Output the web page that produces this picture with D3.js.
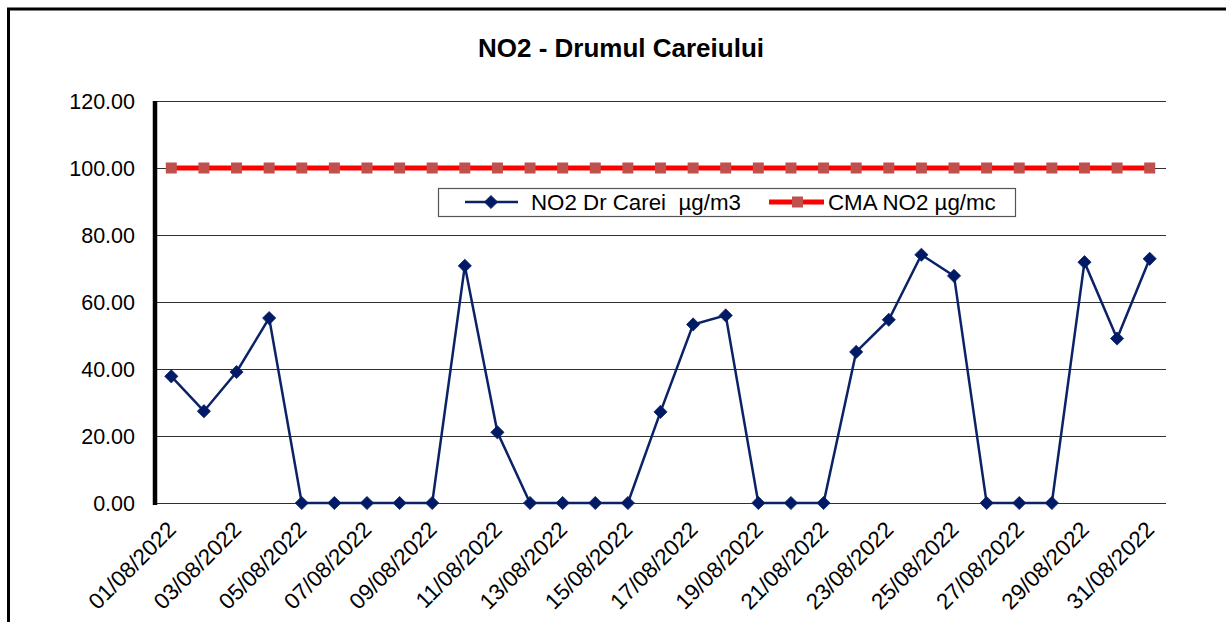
<!DOCTYPE html>
<html>
<head>
<meta charset="utf-8">
<script src="https://cdn.jsdelivr.net/npm/d3@7"></script>
<style>
  html, body { margin: 0; padding: 0; background: #fff; }
  svg { display: block; }
  text { font-family: "Liberation Sans", Arial, sans-serif; fill: #000; }
</style>
</head>
<body>
<svg id="chart" width="1226" height="622"></svg>
<script>
// ---- Data ----
const titleText = "NO2 - Drumul Careiului";
const dates = [
  "01/08/2022","02/08/2022","03/08/2022","04/08/2022","05/08/2022","06/08/2022",
  "07/08/2022","08/08/2022","09/08/2022","10/08/2022","11/08/2022","12/08/2022",
  "13/08/2022","14/08/2022","15/08/2022","16/08/2022","17/08/2022","18/08/2022",
  "19/08/2022","20/08/2022","21/08/2022","22/08/2022","23/08/2022","24/08/2022",
  "25/08/2022","26/08/2022","27/08/2022","28/08/2022","29/08/2022","30/08/2022",
  "31/08/2022"
];
const no2Values = [
  37.8, 27.4, 39.1, 55.2, 0, 0, 0, 0, 0, 70.8, 21.1, 0, 0, 0, 0,
  27.2, 53.3, 56.0, 0, 0, 0, 45.1, 54.7, 74.1, 67.8, 0, 0, 0, 71.9, 49.1, 72.9
];
const cmaValues = dates.map(() => 100);
const seriesNames = ["NO2 Dr Carei  \u00b5g/m3", "CMA NO2 \u00b5g/mc"];
const yTicks = [0, 20, 40, 60, 80, 100, 120];
const xTickLabels = dates.filter((d, i) => i % 2 === 0);

// ---- Layout ----
const svg = d3.select("#chart");
const plot = { left: 155, right: 1166, top: 101, bottom: 503 };
const navy = "#0c2266";
const navyFill = "#001a66";
const red = "#ff0000";
const squareFill = "#c0504d";

const x = d3.scaleBand().domain(dates).range([plot.left, plot.right]).padding(0);
const cx = d => x(d) + x.bandwidth() / 2;
const y = d3.scaleLinear().domain([0, 120]).range([plot.bottom, plot.top]);

// outer border (runs off right/bottom edges)
svg.append("rect")
  .attr("x", 8.5).attr("y", 9).attr("width", 1400).attr("height", 800)
  .attr("fill", "none").attr("stroke", "#000").attr("stroke-width", 3);

// title
svg.append("text")
  .attr("x", 621).attr("y", 57)
  .attr("text-anchor", "middle")
  .style("font-size", "26px").style("font-weight", "bold")
  .text(titleText);

// gridlines
svg.append("g").selectAll("line").data(yTicks.filter(t => t > 0)).join("line")
  .attr("x1", plot.left).attr("x2", plot.right)
  .attr("y1", d => Math.round(y(d)) + 0.5).attr("y2", d => Math.round(y(d)) + 0.5)
  .attr("stroke", "#303030").attr("stroke-width", 1);

// x axis line
svg.append("line")
  .attr("x1", plot.left).attr("x2", plot.right)
  .attr("y1", plot.bottom + 0.5).attr("y2", plot.bottom + 0.5)
  .attr("stroke", "#303030").attr("stroke-width", 1.2);

// y axis (thick)
svg.append("line")
  .attr("x1", plot.left).attr("x2", plot.left)
  .attr("y1", plot.top).attr("y2", plot.bottom + 2)
  .attr("stroke", "#000").attr("stroke-width", 4.5);

// y tick labels
const yAxis = d3.axisLeft(y).tickValues(yTicks).tickFormat(d3.format(".2f")).tickSize(0).tickPadding(0);
const gy = svg.append("g").attr("transform", `translate(135,0)`).call(yAxis);
gy.select(".domain").remove();
gy.selectAll("text")
  .style("font-size", "21.5px")
  .style("font-family", "'Liberation Sans', Arial, sans-serif")
  .attr("fill", "#000")
  .attr("dy", "0.36em");

// x tick labels
const xAxis = d3.axisBottom(x).tickValues(xTickLabels).tickSize(0).tickPadding(0);
const gx = svg.append("g").attr("transform", `translate(0,${plot.bottom})`).call(xAxis);
gx.select(".domain").remove();
gx.selectAll("text")
  .style("font-size", "22.5px")
  .style("font-family", "'Liberation Sans', Arial, sans-serif")
  .attr("fill", "#000")
  .attr("text-anchor", "end")
  .attr("dy", 0).attr("y", 0)
  .attr("transform", "translate(6,28) rotate(-45)");

// CMA line
const line = d3.line().x((d, i) => cx(dates[i])).y(d => y(d));
svg.append("path").datum(cmaValues)
  .attr("d", line).attr("fill", "none")
  .attr("stroke", red).attr("stroke-width", 5);
svg.append("g").selectAll("rect").data(cmaValues).join("rect")
  .attr("x", (d, i) => cx(dates[i]) - 5.5).attr("y", d => y(d) - 5.5)
  .attr("width", 11).attr("height", 11)
  .attr("fill", squareFill);

// NO2 line
svg.append("path").datum(no2Values)
  .attr("d", line).attr("fill", "none")
  .attr("stroke", navy).attr("stroke-width", 2.5);
const diamond = s => `M0,${-s}L${s},0L0,${s}L${-s},0Z`;
svg.append("g").selectAll("path").data(no2Values).join("path")
  .attr("transform", (d, i) => `translate(${cx(dates[i])},${y(d)})`)
  .attr("d", diamond(6.6))
  .attr("fill", navyFill).attr("stroke", navy).attr("stroke-width", 0.8);

// legend
const lg = svg.append("g");
lg.append("rect")
  .attr("x", 438.5).attr("y", 188.5).attr("width", 577).attr("height", 28)
  .attr("fill", "#fff").attr("stroke", "#555").attr("stroke-width", 1.2);
lg.append("line").attr("x1", 465).attr("x2", 518).attr("y1", 202).attr("y2", 202)
  .attr("stroke", navy).attr("stroke-width", 2.5);
lg.append("path").attr("transform", "translate(491,202)").attr("d", diamond(6.6))
  .attr("fill", navyFill).attr("stroke", navy).attr("stroke-width", 0.8);
lg.append("text").attr("x", 531).attr("y", 210)
  .style("font-size", "22.3px").style("white-space", "pre")
  .attr("xml:space", "preserve")
  .text(seriesNames[0]);
lg.append("line").attr("x1", 769).attr("x2", 824).attr("y1", 202).attr("y2", 202)
  .attr("stroke", red).attr("stroke-width", 5);
lg.append("rect").attr("x", 792).attr("y", 196.5).attr("width", 11).attr("height", 11)
  .attr("fill", squareFill);
lg.append("text").attr("x", 828).attr("y", 210)
  .style("font-size", "22.3px")
  .text(seriesNames[1]);
</script>
</body>
</html>
